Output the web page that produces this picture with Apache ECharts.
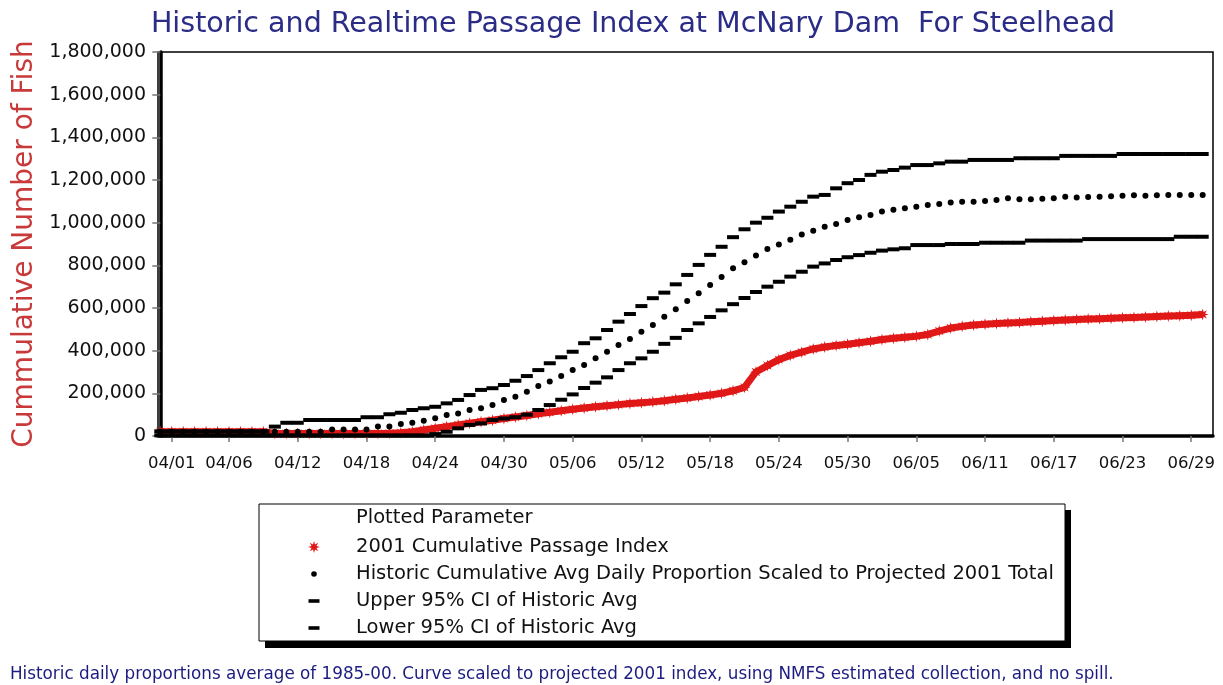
<!DOCTYPE html>
<html>
<head>
<meta charset="utf-8">
<script src="https://cdn.jsdelivr.net/npm/echarts@6/dist/echarts.min.js"></script>
<style>
html,body{margin:0;padding:0;background:#fff;}
#chart{width:1223px;height:685px;}
</style>
</head>
<body>
<div id="chart"></div>
<script>
// ---- categories: daily dates 03/31 .. 06/30 ----
const monthDays = [[3, 31, 31], [4, 1, 30], [5, 1, 31], [6, 1, 30]];
const dates = [];
monthDays.forEach(function (m) {
  for (let d = m[1]; d <= m[2]; d++) {
    dates.push((m[0] < 10 ? '0' : '') + m[0] + '/' + (d < 10 ? '0' : '') + d);
  }
});

// ---- tick labels ----
const tickLabels = ['04/01', '04/06', '04/12', '04/18', '04/24', '04/30', '05/06', '05/12',
  '05/18', '05/24', '05/30', '06/05', '06/11', '06/17', '06/23', '06/29'];

// ---- series names ----
const seriesNames = [
  '2001 Cumulative Passage Index',
  'Historic Cumulative Avg Daily Proportion Scaled to Projected 2001 Total',
  'Upper 95% CI of Historic Avg',
  'Lower 95% CI of Historic Avg'
];

// ---- values (one per date, 03/31 .. 06/30) ----
const passage2001 = [
  20000, 20000, 20000, 20000, 20000, 20000, 20000, 20000, 20000, 20000,
  12000, 12000, 12000, 12000, 12000, 12000, 12000, 12000, 12000, 12000,
  13000, 15000, 20000, 28000, 36000, 44000, 52000, 60000, 67000, 74000,
  82000, 89000, 96000, 104000, 111000, 118000, 125000, 131000, 137000, 142000,
  147000, 152000, 156000, 160000, 165000, 172000, 178000, 185000, 192000, 200000,
  212000, 228000, 300000, 330000, 358000, 378000, 393000, 408000, 417000, 424000,
  430000, 437000, 444000, 452000, 458000, 463000, 468000, 476000, 492000, 506000,
  514000, 520000, 524000, 527000, 530000, 532000, 535000, 538000, 541000, 544000,
  546000, 548000, 550000, 552000, 554000, 556000, 558000, 560000, 562000, 564000,
  566000, 570000
];
const historicAvg = [
  20000, 20000, 20000, 20000, 20000, 20000, 20000, 20000, 20000, 20000,
  20000, 20000, 20000, 20000, 20000, 31000, 31000, 31000, 31000, 44000,
  44000, 56000, 62000, 72000, 83000, 98000, 106000, 122000, 130000, 145000,
  169000, 184000, 208000, 234000, 255000, 281000, 309000, 333000, 364000, 395000,
  427000, 455000, 489000, 520000, 559000, 594000, 633000, 669000, 708000, 745000,
  786000, 814000, 846000, 876000, 898000, 920000, 945000, 962000, 981000, 994000,
  1013000, 1025000, 1036000, 1052000, 1060000, 1067000, 1075000, 1083000, 1088000, 1094000,
  1098000, 1098000, 1102000, 1106000, 1114000, 1110000, 1110000, 1112000, 1114000, 1122000,
  1118000, 1120000, 1122000, 1124000, 1126000, 1128000, 1126000, 1128000, 1130000, 1130000,
  1130000, 1130000
];
const upperCI = [
  22000, 22000, 22000, 22000, 22000, 22000, 22000, 22000, 22000, 22000,
  44000, 62000, 62000, 75000, 75000, 75000, 75000, 75000, 88000, 88000,
  102000, 109000, 122000, 130000, 137000, 153000, 169000, 192000, 216000, 224000,
  239000, 259000, 281000, 309000, 341000, 369000, 395000, 435000, 458000, 497000,
  536000, 572000, 609000, 646000, 672000, 711000, 755000, 802000, 849000, 887000,
  932000, 969000, 1000000, 1023000, 1052000, 1075000, 1098000, 1122000, 1130000, 1161000,
  1185000, 1200000, 1224000, 1239000, 1247000, 1258000, 1270000, 1270000, 1278000, 1286000,
  1286000, 1294000, 1294000, 1294000, 1294000, 1302000, 1302000, 1302000, 1302000, 1313000,
  1313000, 1313000, 1313000, 1313000, 1322000, 1322000, 1322000, 1322000, 1322000, 1322000,
  1322000, 1322000
];
const lowerCI = [
  3000, 3000, 3000, 3000, 3000, 3000, 3000, 3000, 3000, 3000,
  3000, 3000, 3000, 3000, 3000, 3000, 3000, 3000, 3000, 3000,
  3000, 3000, 3000, 3000, 9000, 20000, 36000, 52000, 59000, 75000,
  82000, 88000, 100000, 122000, 145000, 170000, 195000, 225000, 250000, 275000,
  309000, 341000, 364000, 395000, 432000, 460000, 497000, 528000, 558000, 589000,
  618000, 647000, 675000, 700000, 723000, 747000, 770000, 794000, 809000, 825000,
  838000, 848000, 859000, 869000, 875000, 880000, 895000, 895000, 895000, 900000,
  900000, 900000, 906000, 906000, 906000, 906000, 916000, 916000, 916000, 916000,
  916000, 923000, 923000, 923000, 923000, 923000, 923000, 923000, 923000, 934000,
  934000, 934000
];

const FONT = 'DejaVu Sans';
const RED = '#e01818';
const starPath = 'path://M10,5L7.03,5.84L8.54,8.54L5.84,7.03L5,10L4.16,7.03L1.46,8.54L2.97,5.84L0,5L2.97,4.16L1.46,1.46L4.16,2.97L5,0L5.84,2.97L8.54,1.46L7.03,4.16Z';
const legendDot = 'path://M0,0M14,12M9.8,6A2.8,2.8,0,1,1,4.2,6A2.8,2.8,0,1,1,9.8,6Z';
const legendDash = 'path://M0,0M14,12M1.5,4.2L12.5,4.2L12.5,7.8L1.5,7.8Z';

function pairs(arr) { return arr.map(function (v, i) { return [i, v]; }); }
const tickIdx = tickLabels.map(function (l) { return dates.indexOf(l); });

const chart = echarts.init(document.getElementById('chart'), null, {renderer: 'canvas'});
chart.setOption({
  animation: false,
  backgroundColor: '#ffffff',
  title: {
    text: 'Historic and Realtime Passage Index at McNary Dam  For Steelhead',
    left: 628, top: 5, textAlign: 'center',
    textStyle: {fontFamily: FONT, fontSize: 28.5, fontWeight: 'normal', color: '#2a2c86'}
  },
  grid: {left: 158, right: 10, top: 52, bottom: 249, show: true, borderColor: '#000', borderWidth: 1.5, backgroundColor: '#fff'},
  xAxis: {
    type: 'value', min: -0.2, max: 91.9,
    axisLine: {show: true, onZero: false, lineStyle: {color: '#000', width: 3.5}},
    axisTick: {show: true, customValues: tickIdx, length: 6, lineStyle: {color: '#777', width: 1.5}},
    axisLabel: {customValues: tickIdx, formatter: function (v) { return dates[Math.round(v)]; },
      fontFamily: FONT, fontSize: 16.5, color: '#111', margin: 19},
    splitLine: {show: false}
  },
  yAxis: {
    type: 'value', min: 0, max: 1800000, interval: 200000,
    name: 'Cummulative Number of Fish', nameLocation: 'middle', nameGap: 114,
    nameTextStyle: {fontFamily: FONT, fontSize: 28, color: '#c83a3a'},
    axisLine: {show: true, lineStyle: {color: '#000', width: 3.5}},
    axisTick: {show: true, length: 8, lineStyle: {color: '#777', width: 1.5}},
    axisLabel: {fontFamily: FONT, fontSize: 19, color: '#111', margin: 12,
      formatter: function (v) { return v.toLocaleString('en-US'); }},
    splitLine: {show: false}
  },
  legend: {
    orient: 'vertical', left: 302, top: 532, z: 10,
    itemWidth: 14, itemHeight: 12, itemGap: 7, selectedMode: false,
    textStyle: {fontFamily: FONT, fontSize: 19.5, color: '#111', lineHeight: 20, padding: [0, 0, 0, 30]},
    data: [
      {name: seriesNames[0], icon: starPath, itemStyle: {color: RED}},
      {name: seriesNames[1], icon: legendDot, itemStyle: {color: '#000'}},
      {name: seriesNames[2], icon: legendDash, itemStyle: {color: '#000'}},
      {name: seriesNames[3], icon: legendDash, itemStyle: {color: '#000'}}
    ]
  },
  graphic: [
    {type: 'rect', z: 0, shape: {x: 265, y: 510, width: 806, height: 138}, style: {fill: '#000'}, silent: true},
    {type: 'rect', z: 1, shape: {x: 259, y: 504, width: 806, height: 137}, style: {fill: '#fff', stroke: '#000', lineWidth: 1}, silent: true},
    {type: 'text', z: 2, x: 356, y: 518, style: {text: 'Plotted Parameter', fontFamily: FONT, fontSize: 19.5, fill: '#111', verticalAlign: 'middle'}, silent: true},
    {type: 'text', z: 2, x: 10, y: 675, style: {text: 'Historic daily proportions average of 1985-00. Curve scaled to projected 2001 index, using NMFS estimated collection, and no spill.', fontFamily: FONT, fontSize: 16.8, fill: '#1c1c80', verticalAlign: 'middle'}, silent: true}
  ],
  series: [
    {
      name: seriesNames[0], type: 'line', data: pairs(passage2001), z: 2,
      lineStyle: {color: RED, width: 7},
      symbol: starPath, symbolSize: 12, showSymbol: true,
      itemStyle: {color: RED}, silent: true
    },
    {
      name: seriesNames[3], type: 'scatter', data: pairs(lowerCI), z: 3,
      symbol: 'rect', symbolSize: [12, 4], itemStyle: {color: '#000', opacity: 1}, silent: true
    },
    {
      name: seriesNames[2], type: 'scatter', data: pairs(upperCI), z: 3,
      symbol: 'rect', symbolSize: [12, 4], itemStyle: {color: '#000', opacity: 1}, silent: true
    },
    {
      name: seriesNames[1], type: 'scatter', data: pairs(historicAvg), z: 3,
      symbol: 'circle', symbolSize: 6, itemStyle: {color: '#000', opacity: 1}, silent: true
    }
  ]
});
</script>
</body>
</html>
